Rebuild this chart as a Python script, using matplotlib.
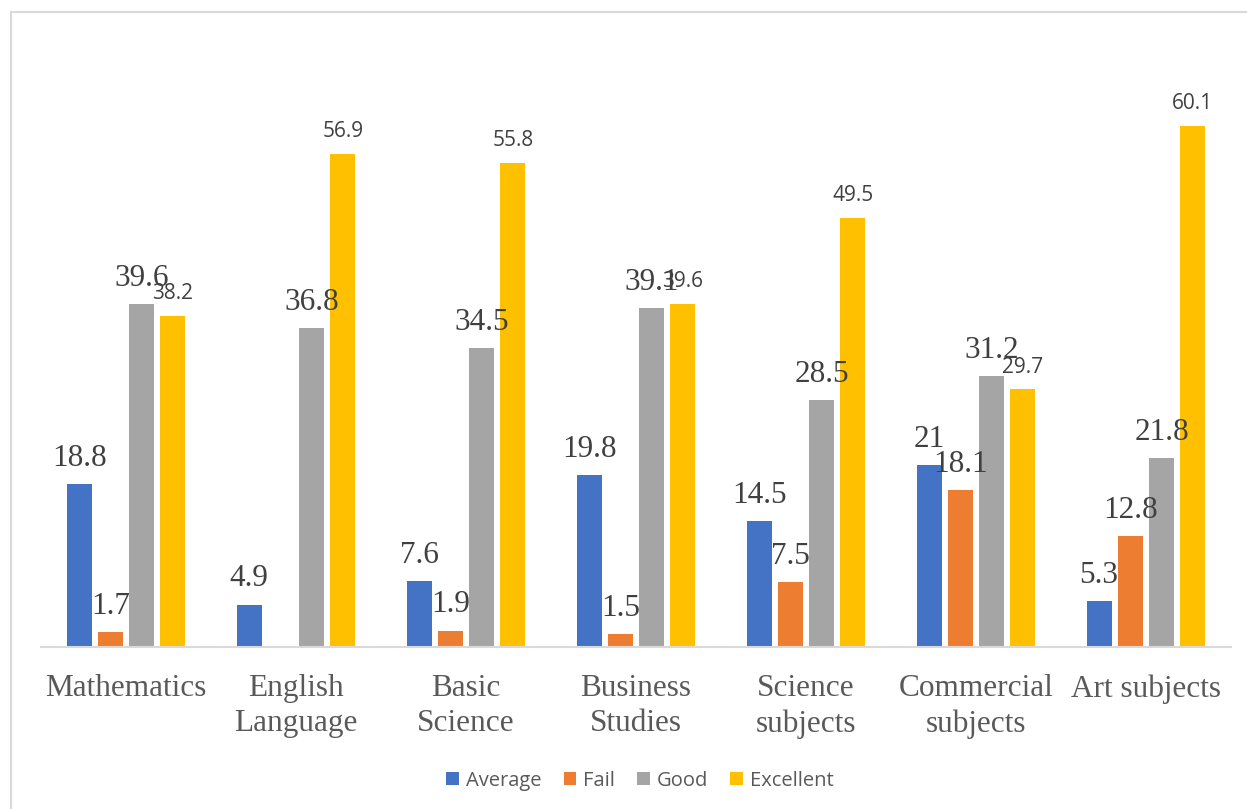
import matplotlib
matplotlib.use("Agg")
import matplotlib.pyplot as plt
from matplotlib.lines import Line2D
import numpy as np

categories = ["Mathematics", "English\nLanguage", "Basic\nScience", "Business\nStudies",
              "Science\nsubjects", "Commercial\nsubjects", "Art subjects"]
series_names = ["Average", "Fail", "Good", "Excellent"]
average = [18.8, 4.9, 7.6, 19.8, 14.5, 21, 5.3]
fail = [1.7, 0, 1.9, 1.5, 7.5, 18.1, 12.8]
good = [39.6, 36.8, 34.5, 39.1, 28.5, 31.2, 21.8]
excellent = [38.2, 56.9, 55.8, 39.6, 49.5, 29.7, 60.1]
colors = ["#4472C4", "#ED7D31", "#A5A5A5", "#FFC000"]

W, H = 1247, 809
fig = plt.figure(figsize=(W / 100, H / 100), dpi=100)
fig.patch.set_facecolor("white")

left, right, base, top = 41, 1231, 647, 40
ax = fig.add_axes([left / W, 1 - base / H, (right - left) / W, (base - top) / H])
ax.set_xlim(-0.5, len(categories) - 0.5)
ax.set_ylim(0, 70)

x = np.arange(len(categories))
step = 0.184
width = 0.147
offsets = [-1.5, -0.5, 0.5, 1.5]
all_series = [average, fail, good, excellent]

for i, (name, vals, col) in enumerate(zip(series_names, all_series, colors)):
    xs = x + offsets[i] * step
    ax.bar(xs, vals, width=width, color=col, label=name, zorder=2)
    for xi, v in zip(xs, vals):
        if v == 0:
            continue
        if name == "Excellent":
            ax.annotate(f"{v:g}", xy=(xi, v), xytext=(0, 12.2), textcoords="offset points",
                        ha="center", va="baseline", fontsize=15, family="Open Sans",
                        color="#404040")
        else:
            ax.annotate(f"{v:g}", xy=(xi, v), xytext=(0, 13), textcoords="offset points",
                        ha="center", va="baseline", fontsize=22.5, family="Liberation Serif",
                        color="#404040")

for s in ["top", "right", "left"]:
    ax.spines[s].set_visible(False)
ax.spines["bottom"].set_color("#D9D9D9")
ax.spines["bottom"].set_linewidth(1.5)
ax.set_yticks([])
ax.set_xticks(x)
ax.set_xticklabels(categories, fontsize=22.5, family="Liberation Serif", color="#595959",
                   linespacing=1.27, va="top")
ax.tick_params(axis="x", length=0, pad=19.5)
ax.patch.set_visible(False)

leg = fig.legend(loc="center", bbox_to_anchor=(640 / W, 1 - 781 / H), ncol=4, frameon=False,
                 prop={"family": "Open Sans", "size": 14.5}, handlelength=0.62, handleheight=0.62,
                 handletextpad=0.35, columnspacing=1.1, labelcolor="#595959")

# chart border (left and top visible)
fig.add_artist(Line2D([11 / W, 11 / W], [0, 1 - 12 / H], color="#D9D9D9", lw=1.5))
fig.add_artist(Line2D([11 / W, 1], [1 - 12 / H, 1 - 12 / H], color="#D9D9D9", lw=1.5))

fig.savefig("out.png", dpi=100, facecolor="white")
